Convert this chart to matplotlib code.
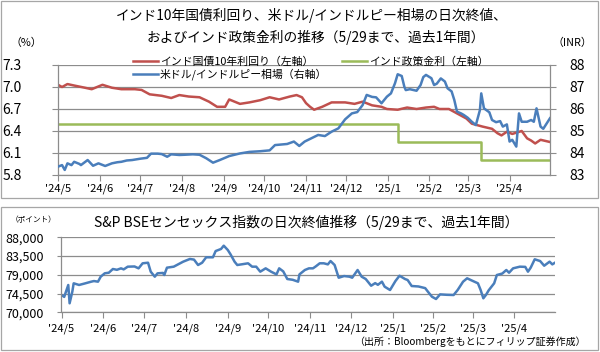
import matplotlib
matplotlib.use("Agg")
import matplotlib.pyplot as plt
import matplotlib.patches as patches
from matplotlib.lines import Line2D
from matplotlib.ticker import FormatStrFormatter, FuncFormatter
import pandas as pd

plt.rcParams["font.family"] = ["Noto Sans CJK JP", "DejaVu Sans"]

# India 10Y government bond yield (%), left axis
yield_dates = [
    "2024-05-29", "2024-06-01", "2024-06-05", "2024-06-10", "2024-06-18", "2024-06-23",
    "2024-07-01", "2024-07-08", "2024-07-15", "2024-07-25", "2024-07-30", "2024-08-05",
    "2024-08-14", "2024-08-21", "2024-08-27", "2024-09-03", "2024-09-11", "2024-09-18",
    "2024-09-24", "2024-09-30", "2024-10-03", "2024-10-07", "2024-10-11", "2024-10-18",
    "2024-10-26", "2024-11-02", "2024-11-09", "2024-11-17", "2024-11-22", "2024-11-26",
    "2024-11-29", "2024-12-02", "2024-12-05", "2024-12-11", "2024-12-18", "2024-12-28",
    "2025-01-04", "2025-01-10", "2025-01-17", "2025-01-24", "2025-01-28", "2025-02-05",
    "2025-02-12", "2025-02-19", "2025-02-26", "2025-03-04", "2025-03-08", "2025-03-15",
    "2025-03-19", "2025-03-23", "2025-03-28", "2025-04-01", "2025-04-09", "2025-04-16",
    "2025-04-20", "2025-04-23", "2025-04-27", "2025-05-01", "2025-05-08", "2025-05-12",
    "2025-05-15", "2025-05-18", "2025-05-22", "2025-05-29",
]
yield_vals = [
    7.03, 7.00, 7.04, 7.02, 6.99, 6.97,
    7.03, 6.99, 6.97, 6.97, 6.96, 6.90,
    6.88, 6.85, 6.89, 6.87, 6.86, 6.80,
    6.73, 6.73, 6.83, 6.80, 6.77, 6.79,
    6.82, 6.86, 6.83, 6.87, 6.89, 6.86,
    6.78, 6.73, 6.69, 6.73, 6.79, 6.79,
    6.77, 6.80, 6.75, 6.73, 6.70, 6.69,
    6.72, 6.70, 6.72, 6.73, 6.70, 6.70,
    6.66, 6.62, 6.57, 6.50, 6.46, 6.43,
    6.37, 6.34, 6.39, 6.36, 6.40, 6.30,
    6.27, 6.23, 6.28, 6.25,
]

# RBI policy rate (%), left axis
rate_dates = ["2024-05-29", "2025-02-05", "2025-04-08", "2025-05-29"]
rate_vals = [6.50, 6.25, 6.00, 6.00]

# USD/INR (right axis)
inr_dates = [
    "2024-05-29", "2024-06-01", "2024-06-03", "2024-06-05", "2024-06-08", "2024-06-10",
    "2024-06-14", "2024-06-15", "2024-06-20", "2024-06-24", "2024-06-28", "2024-07-03",
    "2024-07-08", "2024-07-12", "2024-07-15", "2024-07-19", "2024-07-23", "2024-07-29",
    "2024-08-03", "2024-08-06", "2024-08-11", "2024-08-14", "2024-08-18", "2024-08-21",
    "2024-08-27", "2024-08-31", "2024-09-06", "2024-09-11", "2024-09-16", "2024-09-21",
    "2024-09-26", "2024-10-03", "2024-10-11", "2024-10-18", "2024-10-26", "2024-11-02",
    "2024-11-06", "2024-11-15", "2024-11-20", "2024-11-24", "2024-11-28", "2024-12-03",
    "2024-12-08", "2024-12-13", "2024-12-18", "2024-12-23", "2024-12-28", "2025-01-02",
    "2025-01-06", "2025-01-10", "2025-01-13", "2025-01-17", "2025-01-20", "2025-01-24",
    "2025-01-28", "2025-01-31", "2025-02-03", "2025-02-05", "2025-02-08", "2025-02-10",
    "2025-02-11", "2025-02-14", "2025-02-19", "2025-02-22", "2025-02-24", "2025-02-26",
    "2025-03-02", "2025-03-04", "2025-03-06", "2025-03-09", "2025-03-12", "2025-03-14",
    "2025-03-17", "2025-03-19", "2025-03-21", "2025-03-24", "2025-03-26", "2025-03-29",
    "2025-04-01", "2025-04-04", "2025-04-07", "2025-04-08", "2025-04-10", "2025-04-14",
    "2025-04-16", "2025-04-19", "2025-04-22", "2025-04-24", "2025-04-27", "2025-04-29",
    "2025-05-01", "2025-05-04", "2025-05-06", "2025-05-08", "2025-05-12", "2025-05-15",
    "2025-05-17", "2025-05-19", "2025-05-22", "2025-05-24", "2025-05-29",
]
inr_vals = [
    83.38, 83.45, 83.23, 83.53, 83.45, 83.60,
    83.50, 83.45, 83.68, 83.42, 83.53, 83.41,
    83.53, 83.58, 83.60, 83.66, 83.68, 83.74,
    83.78, 83.97, 83.97, 83.95, 83.83, 83.94,
    83.91, 83.92, 83.94, 83.92, 83.76, 83.56,
    83.68, 83.86, 83.98, 84.05, 84.08, 84.12,
    84.36, 84.41, 84.52, 84.32, 84.52, 84.67,
    84.82, 84.77, 84.97, 85.12, 85.53, 85.80,
    85.86, 86.18, 86.64, 86.55, 86.53, 86.26,
    86.56, 86.71, 87.17, 87.58, 87.50, 87.00,
    86.86, 86.90, 86.83, 87.09, 87.45, 87.55,
    87.40, 87.09, 87.15, 87.39, 87.25, 86.94,
    86.80, 86.41, 85.88, 85.80, 85.73, 85.60,
    85.42, 85.27, 85.95, 86.71, 86.03, 85.85,
    85.50, 85.40, 85.45, 85.20, 85.30, 84.52,
    84.60, 84.29, 85.80, 85.42, 85.42, 85.50,
    85.42, 86.03, 85.20, 85.10, 85.58,
]

# S&P BSE Sensex (points)
sensex_dates = [
    "2024-05-29", "2024-05-31", "2024-06-03", "2024-06-04", "2024-06-06", "2024-06-07",
    "2024-06-11", "2024-06-15", "2024-06-20", "2024-06-22", "2024-06-25", "2024-06-27",
    "2024-06-30", "2024-07-03", "2024-07-06", "2024-07-09", "2024-07-12", "2024-07-14",
    "2024-07-17", "2024-07-22", "2024-07-25", "2024-07-28", "2024-08-01", "2024-08-03",
    "2024-08-06", "2024-08-08", "2024-08-12", "2024-08-13", "2024-08-15", "2024-08-20",
    "2024-08-27", "2024-09-01", "2024-09-04", "2024-09-07", "2024-09-10", "2024-09-13",
    "2024-09-18", "2024-09-20", "2024-09-24", "2024-09-26", "2024-09-29", "2024-10-01",
    "2024-10-04", "2024-10-06", "2024-10-10", "2024-10-14", "2024-10-17", "2024-10-20",
    "2024-10-23", "2024-10-27", "2024-10-31", "2024-11-04", "2024-11-06", "2024-11-09",
    "2024-11-12", "2024-11-16", "2024-11-20", "2024-11-21", "2024-11-25", "2024-11-28",
    "2024-12-01", "2024-12-03", "2024-12-06", "2024-12-09", "2024-12-12", "2024-12-14",
    "2024-12-17", "2024-12-20", "2024-12-24", "2024-12-28", "2024-12-30", "2025-01-03",
    "2025-01-06", "2025-01-09", "2025-01-13", "2025-01-16", "2025-01-18", "2025-01-21",
    "2025-01-23", "2025-01-27", "2025-01-31", "2025-02-03", "2025-02-07", "2025-02-09",
    "2025-02-12", "2025-02-17", "2025-02-22", "2025-02-24", "2025-02-27", "2025-03-02",
    "2025-03-05", "2025-03-10", "2025-03-15", "2025-03-18", "2025-03-22", "2025-03-25",
    "2025-03-28", "2025-04-02", "2025-04-04", "2025-04-06", "2025-04-08", "2025-04-10",
    "2025-04-14", "2025-04-16", "2025-04-20", "2025-04-23", "2025-04-25", "2025-04-28",
    "2025-05-03", "2025-05-07", "2025-05-09", "2025-05-11", "2025-05-14", "2025-05-18",
    "2025-05-21", "2025-05-25", "2025-05-27", "2025-05-29",
]
sensex_vals = [
    74150, 73700, 76550, 72160, 74950, 76960,
    76560, 76900, 77350, 77500, 77350, 78550,
    79360, 79500, 80390, 80200, 80550, 80300,
    80950, 81000, 80550, 81760, 81900, 79740,
    78550, 79350, 79450, 78950, 80710, 80950,
    82150, 82800, 82650, 81350, 81900, 83200,
    83200, 84700, 85200, 85990, 84950, 83920,
    82150, 81350, 81550, 81760, 80950, 80950,
    79750, 80550, 79750, 79100, 80550, 79820,
    77990, 77800, 77350, 79100, 80150, 80550,
    80550, 81000, 81760, 81760, 81500, 82300,
    81350, 78300, 78700, 78550, 78300, 80150,
    78550, 77990, 76380, 77000, 76600, 77350,
    76150, 75350, 77510, 78780, 78000, 77750,
    76310, 76200, 75800, 74950, 73740, 73190,
    74300, 74200, 74150, 75350, 77350, 78160,
    77700, 76960, 75350, 73360, 74200, 75300,
    76960, 78950, 79300, 80150, 79500, 80550,
    80950, 80900, 79750, 80700, 82720, 82300,
    81180, 82150, 81500, 81910,
]

month_ticks = [
    "2024-05-29", "2024-06-29", "2024-07-29", "2024-08-29", "2024-09-29", "2024-10-29",
    "2024-11-29", "2024-12-29", "2025-01-29", "2025-02-28", "2025-03-29", "2025-04-29",
]
month_labels = [
    "'24/5", "'24/6", "'24/7", "'24/8", "'24/9", "'24/10",
    "'24/11", "'24/12", "'25/1", "'25/2", "'25/3", "'25/4",
]
x_start, x_end = pd.Timestamp("2024-05-29"), pd.Timestamp("2025-05-29")

RED = "#C0504D"
GREEN = "#9BBB59"
BLUE = "#4A7EBB"
GRID = "#8C8C8C"
W, H = 600, 352


def fx(px):
    return px / W


def fy(py):
    return 1 - py / H


fig = plt.figure(figsize=(6, 3.52), dpi=100)

# panel frames
for top, bottom in [(1, 198), (207, 350)]:
    fig.add_artist(patches.Rectangle(
        (fx(1), fy(bottom)), fx(597), (bottom - top) / H,
        transform=fig.transFigure, fill=False, edgecolor="#A6A6A6", linewidth=0.9))


def style_axis(ax, xlabsize, pad_x):
    ax.set_xlim(x_start, x_end)
    ax.set_xticks(pd.to_datetime(month_ticks))
    ax.set_xticklabels(month_labels)
    ax.tick_params(axis="x", direction="out", length=4, color=GRID,
                   labelsize=xlabsize, pad=pad_x)
    for s in ["top", "right"]:
        ax.spines[s].set_visible(False)
    for s in ["left", "bottom"]:
        ax.spines[s].set_color(GRID)
        ax.spines[s].set_linewidth(0.9)
    ax.yaxis.grid(True, color=GRID, linewidth=0.9)
    ax.set_axisbelow(True)


# ---- top chart ----
ax = fig.add_axes([fx(58), fy(175), fx(492), 110 / H])
style_axis(ax, 8, 2)
ax.plot(pd.to_datetime(yield_dates), yield_vals, color=RED, linewidth=1.8)
ax.plot(pd.to_datetime(rate_dates), rate_vals, color=GREEN, linewidth=1.8,
        drawstyle="steps-post")
ax.set_ylim(5.8, 7.3)
ax.set_yticks([5.8, 6.1, 6.4, 6.7, 7.0, 7.3])
ax.yaxis.set_major_formatter(FormatStrFormatter("%.1f"))
ax.tick_params(axis="y", direction="out", length=4, color=GRID, labelsize=10, pad=22)

ax2 = ax.twinx()
ax2.plot(pd.to_datetime(inr_dates), inr_vals, color=BLUE, linewidth=1.8)
ax2.set_ylim(83, 88)
ax2.set_yticks([83, 84, 85, 86, 87, 88])
ax2.set_xlim(x_start, x_end)
for s in ["top", "left", "bottom"]:
    ax2.spines[s].set_visible(False)
ax2.spines["right"].set_color(GRID)
ax2.spines["right"].set_linewidth(0.9)
ax2.tick_params(axis="y", direction="out", length=4, color=GRID, labelsize=10, pad=10)

fig.text(fx(312), fy(15), "インド10年国債利回り、米ドル/インドルピー相場の日次終値、",
         ha="center", va="center", fontsize=9.9)
fig.text(fx(316), fy(37), "およびインド政策金利の推移（5/29まで、過去1年間）",
         ha="center", va="center", fontsize=9.9)
fig.text(fx(26), fy(43), "（%）", ha="center", va="center", fontsize=7.8)
fig.text(fx(572), fy(43), "（INR）", ha="center", va="center", fontsize=7.8)

leg_kw = dict(frameon=False, fontsize=7.8, handlelength=2.3, handletextpad=0.2,
              borderpad=0, borderaxespad=0, loc="center left")
fig.legend([Line2D([], [], color=RED, lw=1.8), Line2D([], [], color=GREEN, lw=1.8)],
           ["インド国債10年利回り（左軸）", "インド政策金利（左軸）"],
           ncol=2, columnspacing=2.6, bbox_to_anchor=(fx(133), fy(62)), **leg_kw)
fig.legend([Line2D([], [], color=BLUE, lw=1.8)], ["米ドル/インドルピー相場（右軸）"],
           bbox_to_anchor=(fx(133), fy(74)), **leg_kw)

# ---- bottom chart ----
bx = fig.add_axes([fx(61.5), fy(312.3), fx(493.5), 75 / H])
style_axis(bx, 8, 4)
bx.plot(pd.to_datetime(sensex_dates), sensex_vals, color=BLUE, linewidth=1.8)
bx.set_ylim(70000, 88000)
bx.set_yticks([70000, 74500, 79000, 83500, 88000])
bx.yaxis.set_major_formatter(FuncFormatter(lambda v, p: f"{v:,.0f}"))
bx.tick_params(axis="y", direction="out", length=3, color=GRID, labelsize=9, pad=10)

fig.text(fx(306), fy(222), "S&P BSEセンセックス指数の日次終値推移（5/29まで、過去1年間）",
         ha="center", va="center", fontsize=10)
fig.text(fx(34), fy(220), "（ポイント）", ha="center", va="center", fontsize=5.5)
fig.text(fx(586), fy(342), "（出所：Bloombergをもとにフィリップ証券作成）",
         ha="right", va="center", fontsize=7.2)

fig.savefig("out.png", dpi=100)
